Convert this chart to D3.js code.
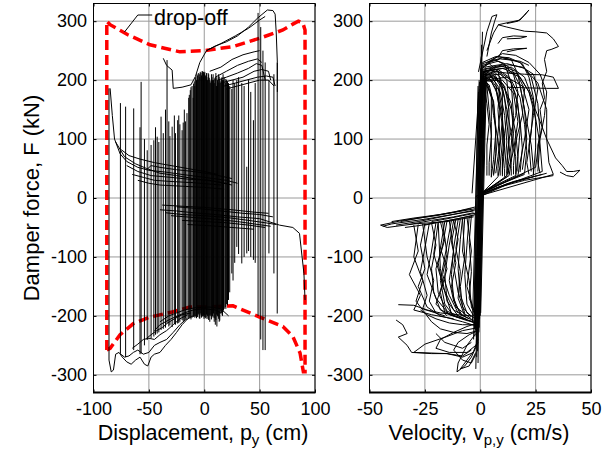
<!DOCTYPE html>
<html>
<head>
<meta charset="utf-8">
<script src="https://cdn.jsdelivr.net/npm/d3@7"></script>
<style>
body { margin: 0; background: #fff; }
text { font-family: Arial, "Liberation Sans", sans-serif; fill: #000; }
</style>
</head>
<body>
<svg id="chart" width="615" height="455"></svg>
<script>
// ---- data ----
const yTicks = [-300, -200, -100, 0, 100, 200, 300];
const dispTicks = [-100, -50, 0, 50, 100];
const velTicks = [-50, -25, 0, 25, 50];

// red dashed envelope (displacement, force)
const envelope = [[-88,-258],[-88,300],[-85,294],[-69,277],[-49,260],[-22,248],[0,250],[26,257],[50,271],[71,285],[80,295],[85,300],[89,297],[91,285],[91,-295],[89.5,-295],[86.5,-263],[80,-235],[71,-218],[50,-202],[26,-183],[0,-185],[-13,-185],[-28,-193],[-49,-202],[-64,-213],[-76,-232],[-85,-255],[-88,-258]];

// vertical drops in displacement plot: [x, lowF, highF]
const dispSpikes = [
  [-86,-275,186],[-75.7,-264,161],[-71,-270,155],[-63.7,-258,152],[-57,-264,197],
  [-51.5,-241,81],[-48,-238,90],[-45.5,-235,98],[-42.5,-230,104],[-39,-224,138],
  [-37,-222,110],[-35,-220,150],[-33.6,-213,234],[-31,-216,105],[-29,-219,121],
  [-27,-214,140],[-24,-213,132],[-22,-210,125],[-20,-207,115],[-18,-208,150],
  [-17,-205,130],[-15.6,-207,144],[-14,-205,170],[-12.6,-202,183],[-11,-203,190],
  [-10,-200,170],[-9.6,-202,194],[-8,-201,205],[-7,-204,200],[-6.6,-200,211],
  [-5,-198,212],[-4,-205,205],[-3.6,-196,214],[-2,-199,215],[-1,-197,205],
  [-0.6,-200,214],[0,-202,212],[1,-204,208],[2,-198,212],[2.4,-205,205],
  [3,-200,200],[4,-207,210],[5,-210,200],[5.4,-200,195],[6,-198,198],
  [7,-201,205],[8,-203,210],[8.4,-196,200],[9,-210,195],[10,-215,205],
  [11,-198,190],[11.4,-218,205],[12,-200,200],[13,-205,210],[14,-208,200],
  [14.4,-196,195],[15,-192,198],[16,-198,205],[17.4,-190,200],[18,-188,205],
  [19,-185,195],[20,-180,200],[21.9,-173,195],[24.9,-128,185],[29.4,-83,200],
  [33.9,-111,195],[38.4,-94,53],[44.4,-105,132],[48.6,-200,314],[51,-240,290],
  [53,-258,250],[55,-258,230],[58.4,-94,200],[62.9,-128,210],[65.9,-196,230],
  [-13.5,-203,175],[-12,-206,188],[-9,-200,198],[-8.5,-203,190],[-6,-202,208],
  [-5.5,-196,200],[-4.5,-204,210],[-3,-199,212],[-2.5,-203,208],[-1.5,-201,215],
  [-0.2,-205,210],[0.5,-199,214],[1.5,-202,206],[3.5,-205,212],[4.5,-199,204],
  [6.5,-206,210],[7.5,-200,200],[9.5,-204,203],[10.5,-207,212],[12.5,-201,196],
  [13.5,-210,206],[15.5,-195,202],[16.5,-200,200],[17,-193,210],[19.5,-188,202],
  [21,-182,198],[23,-160,190],[26,-140,200],[27.5,-110,195],[31,-95,205],
  [36,-100,190],[40,-90,200],[42,-100,180],[46,-110,195],[-58,-265,120],
  [-54,-250,100],[-44,-232,120],[-41,-228,95],[-32,-218,130],[-26,-215,110],
  [-23,-212,140],[-19,-209,128]
];

// plateau traces above zero
const dispUpper = [
  [[-85,186],[-83,140],[-81,100],[-76,75],[-70,62],[-60,52],[-50,47],[-35,44],[-20,40],[0,35],[20,30],[30,25]],
  [[-80,95],[-72,70],[-62,58],[-52,50],[-40,42],[-25,38],[-10,33],[10,28],[25,22]],
  [[-70,55],[-60,45],[-48,38],[-30,35],[-15,32],[5,30],[22,24]],
  [[-65,40],[-55,35],[-45,30],[-30,28],[-10,26],[15,22]],
  [[-60,30],[-50,25],[-40,22],[-20,20],[0,18],[18,15]],
  [[-52,48],[-48,55],[-40,52],[-25,48],[-10,45],[8,40],[25,33]],
  [[-75,82],[-68,72],[-58,66],[-45,60],[-30,55],[-15,50],[0,45],[12,40]]
];

// plateau traces below zero
const dispLower = [
  [[-40,-20],[-25,-22],[-10,-25],[10,-28],[30,-32],[50,-35],[68,-46],[80,-50],[86,-60],[90,-128],[91,-173]],
  [[-35,-25],[-20,-28],[0,-30],[20,-33],[40,-38],[55,-42],[65,-45]],
  [[-30,-30],[-10,-33],[10,-36],[30,-40],[45,-44],[60,-48]],
  [[-25,-15],[-5,-18],[15,-22],[35,-26],[50,-28],[62,-32]],
  [[-20,-38],[0,-40],[20,-42],[40,-46],[55,-50]],
  [[-15,-45],[5,-47],[25,-50],[45,-53]],
  [[-38,-12],[-20,-14],[0,-16],[25,-20],[45,-24],[58,-26]]
];

// upper force traces
const dispTop = [
  [[-37,237],[-34,225],[-29,217],[-28,186],[-20,188],[-12,192],[-8,206],[-4,230],[2,250],[10,258],[20,265],[30,275],[40,290],[48,305],[57,319],[62,318],[64,312],[65,280],[66,230],[66,180]],
  [[2,250],[15,262],[28,275],[40,288],[50,302],[55,308]],
  [[5,215],[15,222],[25,235],[35,243],[45,248],[50,250]],
  [[10,205],[20,215],[30,225],[40,232],[48,236],[52,230]],
  [[12,200],[20,205],[30,212],[40,220],[47,228],[52,225],[55,200]],
  [[15,195],[25,200],[35,205],[45,215],[52,218],[58,215],[60,200]],
  [[18,190],[28,195],[38,200],[48,205],[56,207],[62,205],[64,190]],
  [[20,185],[30,190],[40,195],[50,200],[58,200],[63,190]]
];

// lower force traces
const dispBottom = [
  [[-86,-275],[-84,-295],[-82,-292],[-80,-265],[-77,-262],[-74,-270],[-70,-278],[-66,-282],[-62,-275],[-58,-270],[-54,-282],[-51,-285],[-48,-270],[-45,-265],[-40,-262],[-35,-250],[-30,-240],[-25,-228],[-20,-215],[-15,-205],[-10,-200]],
  [[-76,-264],[-72,-270],[-68,-268],[-64,-262],[-60,-258],[-55,-265],[-50,-262],[-45,-250],[-40,-245],[-34,-240],[-28,-228],[-22,-215],[-16,-205]],
  [[-65,-255],[-60,-248],[-55,-240],[-50,-238],[-45,-240],[-40,-232],[-34,-225],[-28,-215],[-22,-205],[-15,-198]],
  [[-52,-238],[-48,-232],[-43,-225],[-38,-220],[-33,-212],[-27,-205],[-20,-198],[-12,-195]],
  [[-45,-225],[-40,-215],[-35,-210],[-30,-205],[-24,-200],[-18,-195],[-10,-190],[0,-188],[10,-190],[15,-195]],
  [[-40,-210],[-32,-200],[-25,-195],[-18,-190],[-8,-186],[5,-185],[15,-188],[22,-200]]
];

// steep band in velocity plot: [vLow, FLow, vHigh, FHigh]
const velBand = [
  [-2.5,-215,-0.5,200],[-2,-205,0,195],[-1.5,-230,0.5,210],[-1,-210,1,205],
  [-0.5,-220,1.5,215],[0,-200,2,200],[-3,-240,-1,190],[-2.2,-225,0.2,220],
  [-1.8,-250,0.8,225],[-1.2,-260,1.2,230],[-0.8,-215,1.8,198],[-0.3,-205,2.4,210],
  [0.2,-195,2.8,205],[-2.8,-200,-0.2,185],[-3.5,-210,-0.8,180],[-1.6,-270,0.4,240],
  [-1,-280,0.6,260],[-2,-290,1,282],[-3.7,8,-0.3,197],[-2.4,-235,1.4,215],
  [-1.4,-245,2.2,222],[-0.6,-228,2.6,212],[-2.6,-222,0.9,208],[-1.9,-212,1.6,202]
];

// positive force loops (velocity, force)
const velPosLoops = [
  [[1,200],[5,205],[10,195],[14,160],[15,110],[14,60],[13,38],[0,6]],
  [[1,205],[4,210],[8,190],[10,145],[10,95],[9,55],[8,36],[0,5]],
  [[1,195],[3,190],[6,165],[7,120],[7,75],[6,40]],
  [[1,210],[8,215],[14,200],[18,170],[20,125],[21,80],[20,42],[0,7]],
  [[1,215],[10,220],[17,210],[22,180],[25,135],[27,90],[28,45],[0,6]],
  [[1,220],[6,235],[11,228],[14,195],[15,140],[14,90],[12,42]],
  [[1,200],[4,192],[6,160],[7,110],[6,65],[5,36]],
  [[1,225],[8,232],[14,220],[18,190],[20,150],[21,100],[19,48]],
  [[0.5,205],[3,190],[4,150],[5,105],[4,60],[4,38]],
  [[1,198],[10,200],[15,178],[17,130],[15,80],[12,38],[0,5]],
  [[2,215],[14,222],[20,205],[24,165],[23,110],[21,60],[22,40]],
  [[1,228],[10,238],[18,230],[23,205],[26,160],[27,110],[25,52],[0,8]],
  [[1,212],[7,218],[12,200],[13,160],[11,110],[10,70],[10,40]],
  [[1,205],[5,200],[9,180],[11,140],[12,95],[11,50],[11,36]],
  [[2,200],[12,205],[19,190],[22,150],[20,100],[18,60],[17,38]],
  [[1,218],[9,225],[16,215],[20,185],[19,140],[16,95],[15,55],[15,40]],
  [[1,208],[6,212],[9,195],[8,150],[9,100],[8,70],[7,42]],
  [[2,222],[12,228],[20,220],[26,195],[30,150],[30,100],[31,60],[33,40],[0,4]],
  [[3,230],[10,245],[16,242],[22,230],[27,210],[30,180],[29,140],[27,100],[26,45]],
  [[1,200],[3,196],[5,175],[6,140],[8,100],[9,60],[9,38]],
  [[1,210],[6,208],[10,185],[12,150],[14,110],[16,70],[16,40]],
  [[2,215],[8,218],[13,205],[16,175],[18,130],[19,85],[18,44]],
  [[1,202],[4,204],[7,185],[9,150],[8,110],[7,70],[6,38]],
  [[2,218],[11,224],[15,210],[17,180],[16,140],[13,100],[12,60],[13,40]],
  [[1,212],[7,222],[13,226],[19,222],[24,210],[26,185],[24,140],[22,90],[23,45]],
  [[5,215],[12,212],[20,210],[28,209],[33,205],[35.3,186],[30,186],[20,187],[12,188]],
  [[1,203],[6,207],[11,190],[13,150],[13,100],[12,55],[12,37]],
  [[1,199],[3,195],[5,170],[5,130],[5,85],[5,50],[5,35]],
  [[1,214],[5,218],[9,205],[11,170],[12,130],[13,90],[14,50],[14,38]],
  [[2,208],[9,210],[14,195],[17,160],[18,115],[17,70],[16,36]],
  [[1,222],[4,228],[8,215],[10,180],[10,135],[9,90],[8,50],[8,38]],
  [[1,206],[7,205],[11,185],[14,150],[16,110],[17,70],[17,45]],
  [[1,196],[2,185],[3,160],[4,125],[3,90],[3,55],[3,38]],
  [[2,226],[8,240],[14,235],[17,210],[19,170],[21,130],[23,90],[24,50],[24,38]],
  [[1,216],[4,212],[7,195],[8,165],[10,125],[11,85],[10,45]],
  [[1,201],[5,198],[8,175],[10,135],[11,95],[10,60],[10,37]],
  [[1,230],[7,240],[13,238],[19,228],[22,205],[24,170],[25,130],[25,85],[24,40]],
  [[28,40],[15,28],[5,14],[-1,2]],[[33,38],[20,30],[8,18],[-1.5,0]],[[24,36],[12,24],[-2,3]],
  [[20,40],[8,22],[-1,4]],[[16,38],[6,20],[-2,2]],[[12,36],[-1,5]],[[30,42],[14,26],[-1,1]]
];

// the odd large excursions at the top of the velocity plot
const velTopLoops = [
  [[-0.8,214],[3,282],[5.3,308],[7.5,311],[6.5,300],[5,280],[3,240]],
  [[3,250],[6,280],[8.2,294],[13,298],[18,302],[21,315],[22,319],[20,310],[17,300],[12,296]],
  [[8,294],[12,290],[20,283],[25,282],[30,280],[33,270],[35.3,257],[32,252],[30,250],[29,235],[30,215],[28,195],[29,170],[27,150],[28,120],[26,90],[26,60],[27,42]],
  [[8,262],[10,272],[15,275],[21,274],[18,271],[12,270]],
  [[8,238],[10,250],[15,253],[21,254],[17,252],[12,248]],
  [[12,215],[18,205],[22,180],[24,158],[27,130],[30,100],[34,68],[37,55],[39,45],[42,45],[45,47],[42,36],[39,38],[36,44]],
  [[4,230],[9,236],[14,234],[18,232],[22,225]]
];

// negative plateau fan
const velNegPlateau = [
  [[-2,-18],[-20,-30],[-35,-38],[-45,-46],[-42,-50],[-30,-44],[-15,-40],[-3,-32]],
  [[-3,-22],[-25,-36],[-40,-44],[-44,-48]],
  [[-2,-20],[-15,-30],[-28,-40],[-38,-46]],
  [[-3,-25],[-12,-32],[-22,-38],[-32,-45]],
  [[-2,-28],[-10,-35],[-20,-42],[-25,-46]],
  [[-4,-18],[-18,-28],[-30,-34],[-40,-40]],
  [[-1,-25],[-8,-30],[-16,-36],[-22,-40]],
  [[-3,-30],[-14,-38],[-28,-47],[-34,-50]],
  [[-2,-15],[-12,-24],[-26,-33],[-36,-40]]
];

// negative force loops
const velNegLoops = [
  [[-12,-38],[-14,-80],[-16,-130],[-15,-175],[-10,-200],[-4,-210],[-1,-215]],
  [[-20,-42],[-22,-90],[-24,-130],[-20,-170],[-14,-198],[-6,-208],[-1,-212]],
  [[-8,-35],[-9,-70],[-10,-120],[-9,-165],[-6,-195],[-2,-205]],
  [[-25,-44],[-27,-80],[-25,-120],[-28,-150],[-24,-185],[-18,-200],[-8,-210],[-1,-218]],
  [[-16,-40],[-18,-85],[-15,-120],[-18,-160],[-16,-195],[-8,-205]],
  [[-5,-32],[-6,-80],[-7,-130],[-6,-180],[-3,-200]],
  [[-18,-40],[-16,-70],[-19,-110],[-17,-150],[-12,-190],[-5,-205]],
  [[-30,-46],[-28,-90],[-32,-130],[-27,-165],[-30,-190],[-22,-198],[-12,-205]],
  [[-11,-36],[-13,-75],[-11,-110],[-13,-150],[-11,-185],[-4,-205]],
  [[-14,-38],[-12,-90],[-14,-140],[-12,-175],[-8,-200]],
  [[-22,-42],[-20,-80],[-22,-120],[-21,-160],[-18,-190],[-10,-202]],
  [[-9,-36],[-11,-85],[-9,-125],[-10,-170],[-7,-200]],
  [[-7,-34],[-8,-90],[-5,-140],[-4,-185],[-2,-200]],
  [[-26,-44],[-24,-100],[-21,-140],[-23,-175],[-20,-195]],
  [[-17,-40],[-15,-95],[-17,-130],[-14,-165],[-10,-195]],
  [[-13,-38],[-16,-100],[-18,-140],[-16,-180],[-12,-200],[-3,-210]],
  [[-6,-33],[-4,-90],[-6,-150],[-3,-190]],
  [[-19,-41],[-21,-95],[-17,-145],[-20,-180],[-15,-200]],
  [[-10,-37],[-12,-85],[-13,-130],[-12,-170],[-9,-198],[-3,-208]],
  [[-15,-39],[-17,-80],[-20,-120],[-19,-160],[-15,-192],[-6,-206]],
  [[-4,-30],[-5,-75],[-4,-125],[-5,-170],[-2,-198]],
  [[-23,-43],[-25,-85],[-27,-125],[-24,-165],[-26,-188],[-16,-200]],
  [[-28,-45],[-30,-100],[-26,-140],[-29,-175],[-25,-195]],
  [[-8,-35],[-7,-100],[-9,-150],[-8,-185],[-4,-202]],
  [[-12,-38],[-10,-70],[-12,-115],[-10,-160],[-7,-195]],
  [[-19,-41],[-18,-120],[-16,-160],[-13,-196]]
];

// lowest loops of the velocity plot
const velNegBottom = [
  [[-1,-212],[-6,-218],[-12,-228],[-18,-240],[-20,-255],[-14,-262],[-6,-262],[-2,-250]],
  [[-1,-220],[-8,-225],[-15,-235],[-25,-248],[-30,-262],[-15,-264],[-8,-270],[-3,-262]],
  [[-38,-207],[-35,-215],[-33,-230],[-37,-236],[-33,-250],[-31,-262],[-22,-264],[-15,-264],[-8,-268],[-4,-258]],
  [[-1,-225],[-5,-232],[-10,-245],[-12,-258],[-8,-275],[-4,-280],[-2,-265]],
  [[-2,-230],[-6,-250],[-10,-280],[-10.5,-295],[-7,-285],[-4,-270],[-1,-245]],
  [[-27,-190],[-24,-198],[-20,-205],[-14,-212],[-8,-215],[-3,-215]],
  [[-37,-181],[-30,-182],[-24,-190],[-18,-195],[-10,-198],[-4,-200]],
  [[-25,-195],[-22,-210],[-18,-222],[-12,-228],[-6,-230],[-2,-226]],
  [[-20,-230],[-16,-245],[-12,-250],[-8,-255],[-4,-245]],
  [[-1,-240],[-3,-260],[-6,-275],[-9,-290],[-5,-285],[-2,-262]]
];

// ---- drawing ----
const svg = d3.select("#chart");
const plotTop = 3.5, plotBottom = 392.5;
const y = d3.scaleLinear().domain([-330, 330]).range([plotBottom, plotTop]);
const xL = d3.scaleLinear().domain([-100, 100]).range([93.5, 315]);
const xR = d3.scaleLinear().domain([-50, 50]).range([369.5, 591]);
const fmt = d => String(d);   // plain hyphen minus, as in the figure

function panel(x, xt) {
  const g = svg.append("g");
  const [x0, x1] = x.range();
  // grid
  g.append("g").selectAll("line").data(xt).join("line")
    .attr("x1", d => x(d)).attr("x2", d => x(d)).attr("y1", plotTop).attr("y2", plotBottom)
    .attr("stroke", "#9a9a9a").attr("stroke-width", 1);
  g.append("g").selectAll("line").data(yTicks).join("line")
    .attr("x1", x0).attr("x2", x1).attr("y1", d => y(d)).attr("y2", d => y(d))
    .attr("stroke", "#9a9a9a").attr("stroke-width", 1);
  return g;
}

function axes(x, xt) {
  const [x0, x1] = x.range();
  const g = svg.append("g");
  g.append("g").attr("transform", `translate(0,${plotBottom})`)
    .call(d3.axisBottom(x).tickValues(xt).tickSize(-3).tickSizeOuter(0).tickPadding(9.5).tickFormat(fmt))
    .call(a => a.select(".domain").remove());
  g.append("g").attr("transform", `translate(0,${plotTop})`)
    .call(d3.axisTop(x).tickValues(xt).tickSize(-3).tickSizeOuter(0).tickFormat(""))
    .call(a => a.select(".domain").remove());
  g.append("g").attr("transform", `translate(${x0},0)`)
    .call(d3.axisLeft(y).tickValues(yTicks).tickSize(-3).tickSizeOuter(0).tickPadding(6.5).tickFormat(fmt))
    .call(a => a.select(".domain").remove());
  g.append("g").attr("transform", `translate(${x1},0)`)
    .call(d3.axisRight(y).tickValues(yTicks).tickSize(-3).tickSizeOuter(0).tickFormat(""))
    .call(a => a.select(".domain").remove());
  g.selectAll(".tick text").attr("font-size", 18).attr("font-family", "Arial, 'Liberation Sans', sans-serif");
  g.selectAll(".tick line").attr("stroke", "#000");
  g.append("rect").attr("x", x0).attr("y", plotTop).attr("width", x1 - x0).attr("height", plotBottom - plotTop)
    .attr("fill", "none").attr("stroke", "#000").attr("stroke-width", 1);
  g.append("line").attr("x1", x0 - 0.5).attr("x2", x1 + 0.5).attr("y1", plotBottom).attr("y2", plotBottom)
    .attr("stroke", "#000").attr("stroke-width", 2);
}

function traces(g, x, sets) {
  const line = d3.line().x(d => x(d[0])).y(d => y(d[1]));
  sets.forEach(s => {
    g.append("g").selectAll("path").data(s).join("path")
      .attr("d", line).attr("fill", "none")
      .attr("stroke", "#000").attr("stroke-width", 1).attr("stroke-linejoin", "round");
  });
}

// left panel
const gL = panel(xL, dispTicks);
gL.append("path").datum(envelope)
  .attr("d", d3.line().x(d => xL(d[0])).y(d => y(d[1])))
  .attr("fill", "none").attr("stroke", "#ff0000").attr("stroke-width", 3.5)
  .attr("stroke-dasharray", "10,5");
traces(gL, xL, [
  dispSpikes.map(d => [[d[0], d[1]], [d[0], d[2]]]),
  dispUpper, dispLower, dispTop, dispBottom
]);
axes(xL, dispTicks);

// drop-off note
gL.append("path")
  .attr("d", d3.line()([[xL(-47), 15], [xL(-60), 15], [xL(-72), 32]]))
  .attr("fill", "none").attr("stroke", "#000").attr("stroke-width", 1);
svg.append("text").attr("x", 154).attr("y", 25).attr("font-size", 21.5).text("drop-off");

// right panel
const gR = panel(xR, velTicks);
traces(gR, xR, [
  velBand.map(d => [[d[0], d[1]], [d[2], d[3]]]),
  velPosLoops, velTopLoops, velNegPlateau, velNegLoops, velNegBottom
]);
axes(xR, velTicks);

// axis titles
const xl = svg.append("text").attr("x", 203).attr("y", 440).attr("text-anchor", "middle").attr("font-size", 21.5);
xl.append("tspan").text("Displacement, p");
xl.append("tspan").attr("font-size", 15).attr("dy", 5).text("y");
xl.append("tspan").attr("dy", -5).text(" (cm)");

const vl = svg.append("text").attr("x", 479).attr("y", 440).attr("text-anchor", "middle").attr("font-size", 21.5);
vl.append("tspan").text("Velocity, v");
vl.append("tspan").attr("font-size", 15).attr("dy", 5).text("p,y");
vl.append("tspan").attr("dy", -5).text(" (cm/s)");

svg.append("text").attr("transform", "translate(39,198) rotate(-90)")
  .attr("text-anchor", "middle").attr("font-size", 22).text("Damper force, F (kN)");
</script>
</body>
</html>
